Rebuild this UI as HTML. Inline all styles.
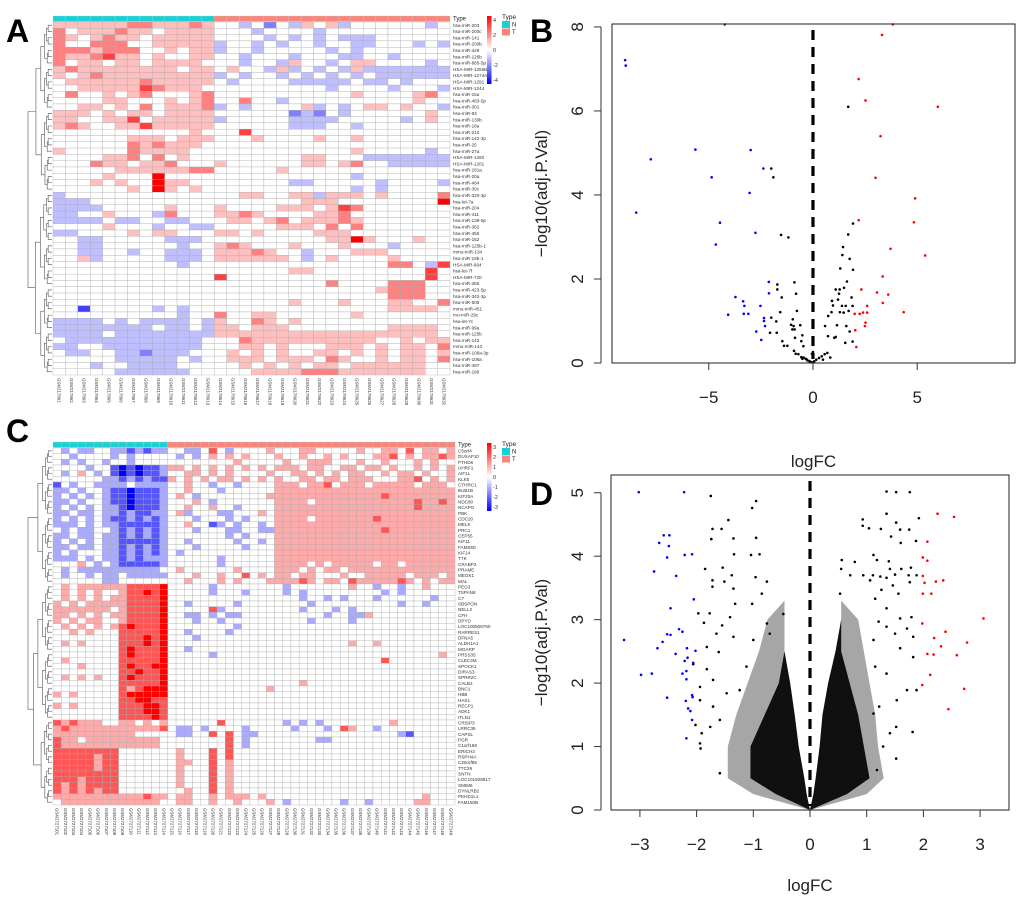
<!DOCTYPE html>
<html><head><meta charset="utf-8"><style>
html,body{margin:0;padding:0;background:#fff;}
svg{display:block;font-family:"Liberation Sans",Arial,sans-serif;}
</style></head><body>
<svg id="fig" width="1020" height="899" viewBox="0 0 1020 899" xmlns="http://www.w3.org/2000/svg">
<rect x="0" y="0" width="1020" height="899" fill="#fff"/>
<text x="6" y="42" font-size="32" font-weight="bold">A</text>
<text x="530" y="42" font-size="32" font-weight="bold">B</text>
<text x="6" y="442" font-size="32" font-weight="bold">C</text>
<text x="530" y="505" font-size="32" font-weight="bold">D</text>
<g id="panelA"></g>
<g id="panelB"></g>
<g id="panelC"></g>
<g id="panelD"></g>
</svg>
<script>
// ---------- Heatmap A data (digits 0..8, 4 = 0, scale -4..4) ----------
const aRowNames = ["hsa-miR-203","hsa-miR-200c","hsa-miR-141","hsa-miR-200b","hsa-miR-429","hsa-miR-126b","hsa-miR-885-5p","HSA-MIR-1255B","HSA-MIR-1274A","HSA-MIR-1291","HSA-MIR-1244","hsa-miR-15a","hsa-miR-483-5p","hsa-miR-301","hsa-miR-93","hsa-miR-130b","hsa-miR-18a","hsa-miR-210","hsa-miR-142-3p","hsa-miR-25","hsa-miR-27a","HSA-MIR-1260","HSA-MIR-1201","hsa-miR-181a","hsa-miR-20a","hsa-miR-484","hsa-miR-30c","hsa-miR-320-3p","hsa-let-7a","hsa-miR-204","hsa-miR-411","hsa-miR-139-5p","hsa-miR-362","hsa-miR-455","hsa-miR-152","hsa-miR-125b-1","mmu-miR-134","hsa-miR-19b-1","HSA-MIR-664","hsa-let-7f","HSA-MIR-720","hsa-miR-365","hsa-miR-423-5p","hsa-miR-342-3p","hsa-miR-505","mmu-miR-451","rno-miR-29c","hsa-let-7c","hsa-miR-99a","hsa-miR-125b","hsa-miR-143","mmu-miR-143","hsa-miR-106a-3p","hsa-miR-106a","hsa-miR-497","hsa-miR-196"];
const aTypeCounts = [13, 19];
const aValues = [
"5555556655565"+"4434243545344444434","6455565545555"+"4443444434444444444","6545655455555"+"4444343434333444444",
"6446664455555"+"3443434434433444343","6665666445455"+"3443444443434444444","6556755454455"+"4434443444334434444",
"6455455455554"+"4434435443455444434","5655555555455"+"4544353434353333333","5456555555555"+"3434434343434333333",
"4555555655555"+"4344443333343343444","4455555765554"+"4444444443444434443","4644545644456"+"4444444444454444564",
"4444554445456"+"4464434444444444544","4455454645556"+"3434444534345545443","5554545545555"+"4444442324344444454",
"5544557455555"+"3444443333444443454","5654455755555"+"4444443334434444444","4444444444454"+"4474444444444444444",
"4444445554555"+"4445444454454444444","4444446565554"+"4444444444444444444","5444446555544"+"4444444444454444434",
"4444556464544"+"4444444554443333333","4446554556444"+"5444444554564433333","4444455555566"+"4444454444444444444",
"4444544484444"+"4444444444434444444","4445454485544"+"4444443344444344443","4444445485454"+"4444444444434344444",
"3444444444444"+"4455445535554544446","3334444444444"+"4444444555444444448","3333444445444"+"5444455545764444444",
"3344544436444"+"5565444455644444444","3333433443344"+"4554564555654444444","4444544434433"+"4444455546464444444",
"3344445455444"+"5545444455544444444","4433444443334"+"4444444445585444544","4433444444344"+"5654445444544434444",
"4433443443334"+"5556544344455544444","4453444443334"+"5555554345444454444","4444444444344"+"4444444444444466437",
"4444444444444"+"4444445544444444474","4444444444444"+"7444444444444444474","4444444444444"+"4444444446444466644",
"4444444444444"+"4444444444444566644","4444444444444"+"4444444444444466644","4444444444444"+"4444445444544455446",
"4414444434344"+"4444444444444455554","4444444444344"+"6445544444454444444","3333434333343"+"5446545444444444444",
"3333333343343"+"5545554444444455554","3333433333333"+"5555555555555555554","4333333333334"+"4465555555555445455",
"3344333333334"+"4455454445554545546","4334433233344"+"4545454455454545545","4444433333434"+"4555455546544545546",
"4443443333444"+"4454545455455555544","4444433333344"+"4445555666555555544"];
const aLegendTicks = ["4","2","0","-2","-4"];

// ---------- Heatmap C data (digits 0..6, 3 = 0, scale -3..3) ----------
const cRowNames = ["C5orf4","DUXAP10","PTHD6","UHRF1","AIF1L","KLK5","CTHRC1","BUB1B","KIF20A","NDC80","NCAPG","PBK","CDC20","MELK","PRC1","CEP55","KIF11","FAM83D","KIF14","TTK","CRABP2","PRAME","MEGK1","MAL","PEG3","TSPAN8","C7","SBSPON","NELL2","CFH","DPYD","LOC100506760","RARRES1","DFNA5","ALDH1A1","MGARP","PRSS35","CLEC4M","SPOCK1","DIRAS3","SPRR2C","CALB2","BNC1","HBB","HAS1","RECP1","ADK1","ITLN1","CRISP3","LRRC36","CAPSL","PGR","C1orf168","ERICH3","RSPH4A","C20orf85","TTC29","SNTN","LOC101928817","SMIM6","DYNLRB2","PKHD1L1","FAM150B"];
const cTypeCounts = [14, 35];
const cValues = [
"32322332212122"+"3322353233334"+"3334433333433443534434","33233332323333"+"3232343434333"+"4334334343334453434454",
"32323323323333"+"3333333343333"+"3433444333433433343433","33332331010112"+"4434343434343"+"4443443344344343343434",
"32343231010112"+"3344343433334"+"3344343434433434434334","33333322121211"+"4343434434343"+"4334434434443334453434",
"13233222232222"+"3343323323333"+"4443445344434444434443","22323321101112"+"3343332333333"+"4444444444444444444444",
"23232321101112"+"3432333333334"+"4444444444444544444444","22323321101112"+"3334323333333"+"4444344444444444454454",
"23232322101112"+"3343343323333"+"4444444444444444454444","22322322121122"+"3423332233343"+"4444444444444444444444",
"23232321121212"+"3332333232333"+"4444344444445444444444","22232322111112"+"3343312323323"+"4444444444444444444444",
"32322332121212"+"3332333223322"+"4444444444444544444444","22322322121212"+"3333333232333"+"4444444444444444444444",
"23232322111112"+"3323333323323"+"4444444444444444444444","22322322121212"+"3332333332333"+"4444444444444444444444",
"23233322121212"+"3233333333333"+"4444444444444444444444","22232322121222"+"3333332333333"+"4444444444444444444444",
"33343232111112"+"3333332333333"+"4444343444443443444444","32322222222223"+"3433333343333"+"4443434434444444444444",
"32332322322222"+"3334334335343"+"4434433343344444344434","33333322333333"+"3343334343334"+"4445434435444445434344",
"34344444455556"+"3333323333333"+"3233333334332332334333","34343433455656"+"3333323332333"+"3232333333333232333333",
"34343434455556"+"3333333333333"+"3332332323332333333233","43434444455556"+"3323333323333"+"3333233333333332332333",
"44444443455556"+"3333352333333"+"3332333232333333333333","44343434455556"+"3322323223333"+"3333332332243333333333",
"43434433455556"+"3332332333333"+"3333233332333333333333","34343434565556"+"3333333323333"+"3333333333333333333333",
"33434333555556"+"3323333233333"+"3333333333333333333333","33333333555656"+"3332333333333"+"3333333333333333333333",
"34343333555656"+"3333333333333"+"3333333334334333333333","33333333565556"+"3323333333333"+"3333333333333333333333",
"33333333565556"+"3333323333333"+"3333333333333333333343","34333333555556"+"3333333333333"+"3333333333333533333333",
"33343333565566"+"3333333333333"+"3333333333333333333333","33333333556556"+"3333333333333"+"3333333333333333333333",
"34343433565556"+"3333333333333"+"3333333333333333333333","33333333555556"+"3333333333333"+"3334333333333333333333",
"33333333545666"+"3333333333334"+"3333333333333333333333","43433333566666"+"3333333333333"+"3333333333333333333333",
"33333333556655"+"3333333333333"+"3333333333333333333333","43433333555665"+"3333333333333"+"3333333333333333333333",
"33333333555665"+"3333333333333"+"3333333333333333333333","33333333555565"+"3333333333333"+"3333333333333333333333",
"54544433443434"+"3333335333333"+"3232323333333343333333","45444444444445"+"3223233332333"+"3323332354332333333333",
"44444444443333"+"3223353532233"+"3333333333333332133333","54434444444443"+"3333333532333"+"3333322333333333333333",
"54444444444443"+"3333333532333"+"3333333333333333333333","55555555333333"+"3433353533333"+"3333333333333333333333",
"55555455333333"+"3433353533333"+"3333333333333333333333","55555455333333"+"3443353433333"+"3333333333333333333333",
"55555455333333"+"3433353433333"+"3333333333333333333333","55555555333333"+"3433353433333"+"3333333333333333333333",
"55545555333333"+"3433353433333"+"3333333333333333333333","54545555333333"+"3433353433333"+"3333333333333333333333",
"54545455333333"+"3343353433333"+"3333333333333333333333","44444444444544"+"3443343444343"+"3333333333333333334333",
"34444444444443"+"3443343343334"+"3233333323323333344333"];
const cLegendTicks = ["3","2","1","0","-1","-2","-3"];

// ---------- Volcano B data ----------
const bBlueX = [-9.01,-8.98,-7.78,-5.64,-2.99,-4.86,-2.38,-3.04,-8.48,-4.46,-4.66,-2.76,-2.12,-2.11,-3.72,-3.35,-3.29,-3.32,-3.10,-4.07,-2.52,-2.35,-2.35,-2.30,-2.72,-2.48,-4.23];
const bBlueY = [7.21,7.08,4.85,5.08,5.07,4.42,4.63,4.05,3.58,3.34,2.82,3.10,1.93,1.66,1.57,1.47,1.36,1.17,1.17,1.15,1.36,1.07,1.00,0.88,0.75,0.55,8.06];
const bRedX = [3.83,3.31,2.19,2.52,5.99,3.24,3.00,4.90,2.19,4.84,3.72,5.38,3.34,2.32,3.07,3.61,3.35,2.60,4.35,2.24,2.40,2.60,2.00,2.52,2.49,2.03,2.08];
const bRedY = [8.06,7.81,6.76,6.25,6.10,5.40,4.41,3.92,3.40,3.35,2.72,2.56,2.06,1.75,1.68,1.63,1.43,1.36,1.21,1.17,1.20,1.20,1.17,0.96,0.88,0.78,0.38];
const bBlackX = [1.69,-2.00,-1.90,-1.53,-1.18,1.92,1.69,1.44,1.41,1.76,1.31,1.92,1.63,-1.71,-0.89,-1.71,-0.81,-1.50,1.09,1.28,1.49,1.25,1.85,0.91,1.20,0.96,1.39,1.57,1.90,-0.77,-1.57,0.89,1.29,1.47,1.71,0.73,-2.00,-0.97,-1.76,-1.05,-0.93,-0.61,0.58,1.15,1.60,-0.99,-0.88,-2.06,-1.74,1.76,-0.51,-0.86,0.72,1.02,1.09,-1.47,-0.56,1.55,1.90,-1.39,-1.23,-0.46,-0.91,-0.83,-0.70,-0.56,-0.45,-0.35,-0.26,-0.16,-0.06,0.06,0.16,0.29,0.42,0.56,0.69,0.83,0.48,-0.05,0.00,-0.29,-0.51];
const bBlackY = [6.10,4.63,4.42,3.05,2.99,3.32,3.06,2.76,2.57,2.48,2.25,2.22,1.94,1.87,1.92,1.75,1.65,1.56,1.75,1.75,1.79,1.65,1.56,1.48,1.51,1.37,1.36,1.36,1.36,1.24,1.21,1.21,1.21,1.20,1.24,1.12,1.08,1.04,0.99,0.91,0.88,0.90,0.88,0.90,0.88,0.80,0.80,0.72,0.72,0.75,0.66,0.60,0.64,0.60,0.62,0.52,0.52,0.48,0.51,0.41,0.41,0.40,0.29,0.22,0.21,0.14,0.13,0.10,0.06,0.04,0.02,0.04,0.08,0.12,0.16,0.21,0.24,0.13,0.08,0.22,0.26,0.08,0.10];
const bXTicks = [-5,0,5];
const bYTicks = [0,2,4,6,8];

// ---------- Volcano D data ----------
const dBlueX = [-3.02,-2.22,-2.58,-2.48,-2.66,-2.49,-2.52,-2.21,-2.08,-2.75,-2.36,-2.05,-2.46,-3.28,-2.60,-2.52,-2.46,-2.31,-2.25,-2.69,-2.37,-2.17,-2.16,-2.21,-2.02,-2.06,-2.98,-2.79,-2.25,-2.18,-2.18,-2.52,-2.08,-2.07,-2.19,-2.15,-2.11,-2.08,-2.18];
const dBlueY = [5.01,5.01,4.33,4.33,4.21,4.16,3.98,4.02,4.03,3.76,3.69,3.32,3.18,2.68,2.65,2.77,2.76,2.85,2.81,2.55,2.46,2.55,2.40,2.35,2.51,2.32,2.13,2.15,2.15,2.19,2.06,1.77,1.81,1.78,1.72,1.60,1.56,1.42,1.13];
const dRedX = [2.25,2.54,2.07,1.99,2.07,1.99,2.02,2.22,2.35,1.99,2.14,3.06,1.98,2.19,2.39,2.31,2.77,2.07,2.18,2.59,2.12,1.98,2.72,2.44];
const dRedY = [4.67,4.62,4.23,3.98,3.93,3.69,3.58,3.60,3.62,3.41,3.41,3.02,2.94,2.71,2.81,2.58,2.64,2.46,2.45,2.44,2.13,1.97,1.91,1.59];
const dBlackX = [-1.75,-0.95,-1.02,-1.44,-1.72,-1.56,-1.74,-1.35,-0.95,-1.34,-1.04,-0.89,-1.85,-1.54,-1.72,-1.51,-1.38,-0.96,-0.76,-1.72,-1.35,-0.85,-1.32,-1.02,-1.97,-1.77,-1.41,-0.47,-1.87,-1.55,-0.76,-1.65,-1.35,-1.00,-0.71,-1.82,-1.61,-2.06,-1.82,-1.94,-1.71,-1.94,-1.71,-1.59,-1.76,-1.91,-2.02,-1.94,-1.93,-1.59,-1.24,-1.12,-1.47,
1.35,1.52,1.76,1.35,0.93,0.93,1.04,1.25,1.52,1.59,1.75,1.92,1.43,1.60,1.87,1.12,1.18,1.39,0.56,0.79,1.41,1.61,1.78,0.55,0.71,0.94,1.11,1.24,1.35,1.50,1.74,1.88,1.06,1.46,1.76,0.53,1.26,1.56,1.15,1.35,1.79,1.59,1.21,1.35,1.71,1.50,1.82,1.12,1.59,1.82,1.15,1.35,1.71,1.88,1.53,1.22,1.12,1.52,1.81,1.29,1.52,1.18,1.41];
const dBlackY = [4.95,4.87,4.76,4.57,4.43,4.43,4.27,4.28,4.29,4.03,4.02,4.03,3.80,3.82,3.62,3.60,3.70,3.67,3.60,3.52,3.49,3.41,3.25,3.25,3.10,3.10,3.04,3.09,2.95,2.91,2.94,2.78,2.73,2.68,2.78,2.57,2.49,2.30,2.22,1.94,2.05,1.73,1.63,1.42,1.31,1.21,1.34,1.05,0.97,0.58,1.89,2.26,1.84,
5.02,5.01,5.01,4.67,4.58,4.48,4.44,4.43,4.53,4.42,4.42,4.60,4.31,4.21,4.24,4.02,3.94,3.92,3.94,3.91,3.80,3.80,3.82,3.80,3.70,3.70,3.70,3.68,3.66,3.71,3.70,3.70,3.62,3.54,3.59,3.41,3.47,3.41,3.33,3.18,3.04,3.02,2.97,2.89,2.86,2.78,2.73,2.68,2.55,2.41,2.26,2.15,1.89,1.89,1.73,1.63,1.52,1.31,1.23,1.00,0.81,0.63,1.21];
const dCloudLevels = [0, 0.25, 0.5, 1.0, 1.5, 2.0, 2.5, 3.0, 3.3];
const dCoreLeftOuter = [0, -0.6, -1.05, -1.05, -0.8, -0.55, -0.45, -0.45, -0.45];
const dCoreLeftInner = [0, -0.06, -0.10, -0.20, -0.27, -0.35, -0.45, -0.45, -0.45];
const dCoreRightInner = [0, 0.06, 0.10, 0.17, 0.22, 0.32, 0.45, 0.55, 0.55];
const dCoreRightOuter = [0, 0.65, 1.05, 0.95, 0.85, 0.70, 0.55, 0.55, 0.55];
const dHaloLeft = [0, -1.0, -1.45, -1.45, -1.30, -1.10, -0.90, -0.75, -0.45];
const dHaloRight = [0, 1.0, 1.30, 1.20, 1.15, 1.05, 0.95, 0.85, 0.55];
const dXTicks = [-3,-2,-1,0,1,2,3];
const dYTicks = [0,1,2,3,4,5];

const NS = "http://www.w3.org/2000/svg";
function el(tag, attrs, parent){
  const e = document.createElementNS(NS, tag);
  for (const k in attrs) e.setAttribute(k, attrs[k]);
  parent.appendChild(e);
  return e;
}
function heatColor(v){
  v = Math.max(-1, Math.min(1, v));
  if (v >= 0){ const c = Math.round(255*(1-v)); return `rgb(255,${c},${c})`; }
  const c = Math.round(255*(1+v)); return `rgb(${c},${c},255)`;
}

function drawHeatmap(g, cfg){
  const {x0,x1,y0,y1,values,rowNames,typeCounts,mid,prefix,colStart,legendTicks,legendY0,legendY1,splits,colLabelPrefix} = cfg;
  const nRows = values.length, nCols = typeCounts[0]+typeCounts[1];
  const cw = (x1-x0)/nCols, rh = (y1-y0)/nRows;
  for (let j=0;j<nCols;j++){
    const r = el('rect',{x:x0+j*cw,y:y0-6,width:cw,height:5.5,fill:j<typeCounts[0]?'#19d0d4':'#f7877b',stroke:'#c8c8c8','stroke-width':0.3},g);
    
    
  }
  const tl = el('text',{x:x1+3,y:y0-1.5,'font-size':6,fill:'#222'},g);
  tl.textContent='Type';
  
  
  for (let i=0;i<nRows;i++){
    const s = values[i];
    for (let j=0;j<nCols;j++){
      const d = j < s.length ? parseInt(s[j],10) : mid;
      const r = el('rect',{x:x0+j*cw,y:y0+i*rh,width:cw,height:rh,fill:heatColor((d-mid)/mid),stroke:'#a9a9a9','stroke-width':0.35},g);
      
      
    }
    const t = el('text',{x:x1+3,y:y0+(i+0.5)*rh+1.6,'font-size':Math.min(4.6,rh*0.85),fill:'#333'},g);
    t.textContent = rowNames[i] || '';
    
    
  }
  for (let j=0;j<nCols;j++){
    const cx = x0+(j+0.5)*cw-1.5, cy = y1+3;
    const t = el('text',{x:cx,y:cy,'font-size':4.4,fill:'#333',transform:`rotate(90 ${cx} ${cy})`},g);
    t.textContent = colLabelPrefix + String(colStart+j);
    
    
  }
  const dx1 = x0-1, dw = 24;
  function build(lo, hi){
    if (lo===hi) return {y:y0+(lo+0.5)*rh, x:dx1};
    let m = splits.find(s => s>=lo && s<hi);
    if (m === undefined) m = Math.floor((lo+hi)/2);
    const a = build(lo, m);
    const b = build(m+1, hi);
    const h = dx1 - dw*Math.pow((hi-lo+1)/nRows, 0.55);
    const p = el('path',{d:`M${a.x},${a.y}H${h}V${b.y}H${b.x}`,stroke:'#555','stroke-width':0.6,fill:'none'},g);
    
    
    return {y:(a.y+b.y)/2, x:h};
  }
  build(0, nRows-1);
  const gid = prefix+'-grad';
  const defs = el('defs',{},g);
  const lg = el('linearGradient',{id:gid,x1:0,y1:0,x2:0,y2:1},defs);
  el('stop',{offset:'0%','stop-color':'#ff0000'},lg);
  el('stop',{offset:'50%','stop-color':'#ffffff'},lg);
  el('stop',{offset:'100%','stop-color':'#0000ff'},lg);
  const lr = el('rect',{x:487,y:legendY0,width:4.5,height:legendY1-legendY0,fill:`url(#${gid})`},g);
  
  
  const n = legendTicks.length;
  for (let k=0;k<n;k++){
    const yy = legendY0+4 + k*(legendY1-legendY0-8)/(n-1);
    const t = el('text',{x:493,y:yy+2,'font-size':5.5,fill:'#333'},g);
    t.textContent = legendTicks[k];
    
    
  }
  const tt = el('text',{x:502,y:legendY0+3,'font-size':6.5,fill:'#222'},g);
  tt.textContent='Type';
  
  
  const items = [['N','#19d0d4'],['T','#f7877b']];
  items.forEach((it,k)=>{
    const r = el('rect',{x:502,y:legendY0+5+k*7.5,width:8,height:7,fill:it[1]},g);
    
    
    const t = el('text',{x:512,y:legendY0+10.5+k*7.5,'font-size':6,fill:'#222'},g);
    t.textContent = it[0];
    
    
  });
}

drawHeatmap(document.getElementById('panelA'),{x0:53,x1:450,y0:22,y1:375,values:aValues,rowNames:aRowNames,typeCounts:aTypeCounts,mid:4,prefix:'heatmap-a',colStart:1,colLabelPrefix:'GSM21786',legendTicks:aLegendTicks,legendY0:16,legendY1:84,splits:[26]});
drawHeatmap(document.getElementById('panelC'),{x0:53,x1:455,y0:448,y1:805,values:cValues,rowNames:cRowNames,typeCounts:cTypeCounts,mid:3,prefix:'heatmap-c',colStart:101,colLabelPrefix:'GSM2727',legendTicks:cLegendTicks,legendY0:443,legendY1:511,splits:[23,47]});

function drawVolcano(g, cfg){
  const {bx0,bx1,by0,by1,xmin,xmax,ymin,ymax,xTicks,yTicks,blue,red,black,prefix,xlabY,tickLabY,cloud} = cfg;
  const sx = v => bx0 + (v-xmin)/(xmax-xmin)*(bx1-bx0);
  const sy = v => by1 - (v-ymin)/(ymax-ymin)*(by1-by0);
  if (cloud){
    const L = cloud.levels;
    const poly = (left,right)=> {
      const pts = [];
      for (let i=0;i<L.length;i++) pts.push(sx(left[i])+','+sy(L[i]));
      for (let i=L.length-1;i>=0;i--) pts.push(sx(right[i])+','+sy(L[i]));
      return pts.join(' ');
    };
    const h1 = el('polygon',{points:poly(cloud.haloLeft,cloud.coreLeftInner),fill:'#000','fill-opacity':0.35},g);
    
    
    const h2 = el('polygon',{points:poly(cloud.coreRightInner,cloud.haloRight),fill:'#000','fill-opacity':0.35},g);
    
    
    const c1 = el('polygon',{points:poly(cloud.coreLeftOuter,cloud.coreLeftInner),fill:'#000','fill-opacity':0.9},g);
    
    
    const c2 = el('polygon',{points:poly(cloud.coreRightInner,cloud.coreRightOuter),fill:'#000','fill-opacity':0.9},g);
    
    
  }
  const series = [[black,'#000','black-point'],[blue,'#0000ff','down-point'],[red,'#ff0000','up-point']];
  series.forEach(s=>{
    const xs = s[0][0], ys = s[0][1];
    for (let i=0;i<xs.length;i++){
      const c = el('circle',{cx:sx(xs[i]),cy:sy(ys[i]),r:1.3,fill:s[1]},g);
      
      
    }
  });
  const dl = el('line',{x1:sx(0),x2:sx(0),y1:by0+6,y2:by1-4,stroke:'#000','stroke-width':3.2,'stroke-dasharray':'10 7'},g);
  
  
  const bx = el('rect',{x:bx0,y:by0,width:bx1-bx0,height:by1-by0,fill:'none',stroke:'#333','stroke-width':1.1},g);
  
  
  const ax = 601;
  const ya = el('line',{x1:ax,x2:ax,y1:sy(yTicks[0]),y2:sy(yTicks[yTicks.length-1]),stroke:'#333','stroke-width':1},g);
  
  
  yTicks.forEach(v=>{
    const y = sy(v);
    const tk = el('line',{x1:ax-7,x2:ax,y1:y,y2:y,stroke:'#333','stroke-width':1},g);
    
    
    const t = el('text',{x:583,y:y,'font-size':17,'text-anchor':'middle',fill:'#222',transform:`rotate(-90 583 ${y})`},g);
    t.textContent = String(v);
    
    
  });
  const ytl = el('text',{x:547,y:(by0+by1)/2,'font-size':17,'text-anchor':'middle',fill:'#222',transform:`rotate(-90 547 ${(by0+by1)/2})`},g);
  ytl.textContent = '\u2212log10(adj.P.Val)';
  
  
  xTicks.forEach(v=>{
    const x = sx(v);
    const tk = el('line',{x1:x,x2:x,y1:by1,y2:by1+7,stroke:'#333','stroke-width':1},g);
    
    
    const t = el('text',{x:x,y:tickLabY,'font-size':17,'text-anchor':'middle',fill:'#222'},g);
    t.textContent = v<0 ? '\u2212'+Math.abs(v) : String(v);
    
    
  });
  const xtl = el('text',{x:(bx0+bx1)/2,y:xlabY,'font-size':17,'text-anchor':'middle',fill:'#222'},g);
  xtl.textContent = 'logFC';
  
  
}

drawVolcano(document.getElementById('panelB'),{bx0:612,bx1:1015,by0:24,by1:363,xmin:-9.64,xmax:9.69,ymin:0,ymax:8.07,xTicks:bXTicks,yTicks:bYTicks,
  blue:[bBlueX,bBlueY],red:[bRedX,bRedY],black:[bBlackX,bBlackY],prefix:'volcano-b',tickLabY:403,xlabY:467,cloud:null});
drawVolcano(document.getElementById('panelD'),{bx0:611,bx1:1009,by0:475,by1:810,xmin:-3.51,xmax:3.51,ymin:0,ymax:5.28,xTicks:dXTicks,yTicks:dYTicks,
  blue:[dBlueX,dBlueY],red:[dRedX,dRedY],black:[dBlackX,dBlackY],prefix:'volcano-d',tickLabY:850,xlabY:891,
  cloud:{levels:dCloudLevels,coreLeftOuter:dCoreLeftOuter,coreLeftInner:dCoreLeftInner,coreRightInner:dCoreRightInner,coreRightOuter:dCoreRightOuter,haloLeft:dHaloLeft,haloRight:dHaloRight}});
</script>
</body></html>
